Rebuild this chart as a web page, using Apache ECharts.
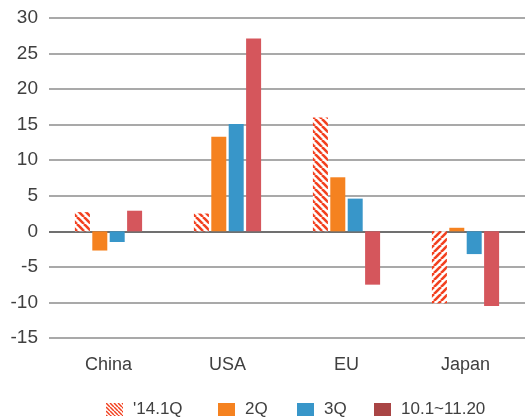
<!DOCTYPE html>
<html>
<head>
<meta charset="utf-8">
<script src="https://cdn.jsdelivr.net/npm/echarts@6/dist/echarts.min.js"></script>
<style>
html,body{margin:0;padding:0;background:#fff;}
#chart{width:528px;height:418px;}
</style>
</head>
<body>
<div id="chart"></div>
<script>
const categories = ['China', 'USA', 'EU', 'Japan'];
const seriesNames = ["'14.1Q", '2Q', '3Q', '10.1~11.20'];
const q1 = [2.7, 2.5, 16.0, -10.1];
const q2 = [-2.7, 13.3, 7.6, 0.5];
const q3 = [-1.5, 15.1, 4.6, -3.2];
const recent = [2.9, 27.1, -7.5, -10.5];
const yTicks = [-15, -10, -5, 0, 5, 10, 15, 20, 25, 30];

const HATCH = '#f2401f';
function makeHatch(size, lw, flip) {
  const c = document.createElement('canvas');
  c.width = size; c.height = size;
  const ctx = c.getContext('2d');
  ctx.fillStyle = '#ffffff';
  ctx.fillRect(0, 0, size, size);
  ctx.strokeStyle = HATCH;
  ctx.lineWidth = lw;
  for (let o = -size; o <= size; o += size) {
    ctx.beginPath();
    if (!flip) { ctx.moveTo(o, 0); ctx.lineTo(o + size, size); }
    else { ctx.moveTo(o, size); ctx.lineTo(o + size, 0); }
    ctx.stroke();
  }
  return c;
}
const patPos = { image: makeHatch(7, 2.6, false), repeat: 'repeat' };
const patNeg = { image: makeHatch(7, 2.6, true), repeat: 'repeat' };
const patLegend = { image: makeHatch(4, 1.5, false), repeat: 'repeat' };

const FONT = '"Liberation Sans", Arial, sans-serif';
const TXT = '#404040';

const splitColors = yTicks.map(v => v === 0 ? '#404040' : '#8c8c8c');

const legendLefts = [106, 218, 297, 374];
const legendItemStyles = [{ color: patLegend }, null, null, { color: '#a94545' }];
const legends = seriesNames.map((name, i) => ({
  left: legendLefts[i], top: 401,
  itemWidth: 17, itemHeight: 13,
  icon: 'rect',
  padding: 0,
  textStyle: { fontSize: 17, color: TXT, fontFamily: FONT, lineHeight: 17, padding: [0, 0, 0, 5] },
  data: [legendItemStyles[i] ? { name: name, itemStyle: legendItemStyles[i] } : { name: name }]
}));

const chart = echarts.init(document.getElementById('chart'), null, { renderer: 'canvas' });
chart.setOption({
  animation: false,
  backgroundColor: '#ffffff',
  textStyle: { fontFamily: FONT },
  grid: { left: 49, right: 3, top: 18, bottom: 80, containLabel: false },
  legend: legends,
  xAxis: {
    type: 'category',
    data: categories,
    axisLine: { show: false, onZero: false },
    axisTick: { show: false },
    axisLabel: { fontSize: 18, color: TXT, margin: 18, fontFamily: FONT }
  },
  yAxis: {
    type: 'value',
    min: -15, max: 30, interval: 5,
    axisLine: { show: false },
    axisTick: { show: false },
    axisLabel: { fontSize: 19, color: TXT, margin: 11, fontFamily: FONT },
    splitLine: { show: true, lineStyle: { color: splitColors, width: 1.5 } }
  },
  series: [
    {
      name: seriesNames[0], type: 'bar', barWidth: 15, barGap: '16%',
      itemStyle: { color: patPos },
      data: q1.map(v => ({ value: v, itemStyle: { color: v < 0 ? patNeg : patPos } }))
    },
    { name: seriesNames[1], type: 'bar', barWidth: 15, barGap: '16%', itemStyle: { color: '#f58220' }, data: q2 },
    { name: seriesNames[2], type: 'bar', barWidth: 15, barGap: '16%', itemStyle: { color: '#3896c9' }, data: q3 },
    { name: seriesNames[3], type: 'bar', barWidth: 15, barGap: '16%', itemStyle: { color: '#d5565c' }, data: recent }
  ]
});
</script>
</body>
</html>
